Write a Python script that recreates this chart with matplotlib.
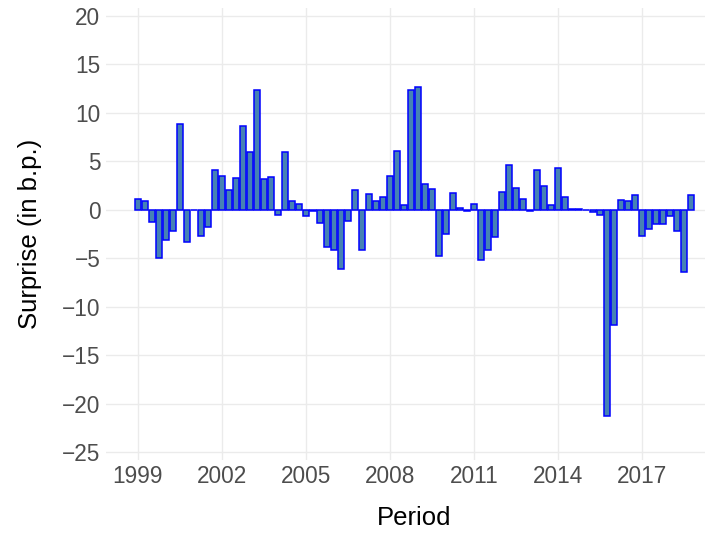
import numpy as np
import matplotlib.pyplot as plt

plt.rcParams['font.family'] = ['Liberation Sans', 'DejaVu Sans']

# quarterly surprises, 1999Q1 .. 2018Q4 (in basis points)
start_year = 1999
surprise = [
    1.1, 0.9, -1.3, -5.0, -3.1, -2.2, 8.8, -3.3,
    0.0, -2.7, -1.8, 4.1, 3.5, 2.0, 3.3, 8.6,
    6.0, 12.4, 3.2, 3.4, -0.5, 6.0, 0.9, 0.6,
    -0.6, -0.1, -1.4, -3.8, -4.2, -6.1, -1.2, 2.0,
    -4.2, 1.6, 0.9, 1.3, 3.5, 6.1, 0.5, 12.4,
    12.7, 2.7, 2.1, -4.8, -2.5, 1.7, 0.15, -0.15,
    0.55, -5.2, -4.2, -2.8, 1.8, 4.6, 2.2, 1.15,
    -0.1, 4.1, 2.5, 0.5, 4.35, 1.3, 0.05, 0.1,
    0.0, -0.2, -0.5, -21.3, -11.9, 1.0, 0.9, 1.55,
    -2.7, -2.0, -1.5, -1.5, -0.65, -2.2, -6.4, 1.5,
]
year_ticks = [1999, 2002, 2005, 2008, 2011, 2014, 2017]
y_ticks = [20, 15, 10, 5, 0, -5, -10, -15, -20, -25]

period = start_year + np.arange(len(surprise)) * 0.25

fig = plt.figure(figsize=(7.11, 5.33), dpi=100)
ax = fig.add_axes([106 / 711, 1 - 459.8 / 533, 599 / 711, 451.6 / 533])

ax.bar(period, surprise, width=0.22, color='#4682B4', edgecolor='blue',
       linewidth=1.1, zorder=3)

ax.set_xlim(1997.86, 2019.25)
ax.set_ylim(-25.8, 20.8)
ax.set_xticks(year_ticks)
ax.set_yticks(y_ticks)
ax.set_yticklabels([str(v).replace('-', '\u2212') for v in y_ticks])

ax.grid(True, color='#EBEBEB', linewidth=1.0, zorder=0)
for s in ax.spines.values():
    s.set_visible(False)
ax.tick_params(length=0, labelsize=16.3, labelcolor='#4D4D4D', pad=4)

# x title is centred on the full (cropped) panel
ax.set_xlabel('Period', fontsize=18.5)
ax.xaxis.set_label_coords(0.515, -0.102)
ax.set_ylabel('Surprise (in b.p.)', fontsize=18.5, labelpad=14)

fig.savefig('out.png', dpi=100)
